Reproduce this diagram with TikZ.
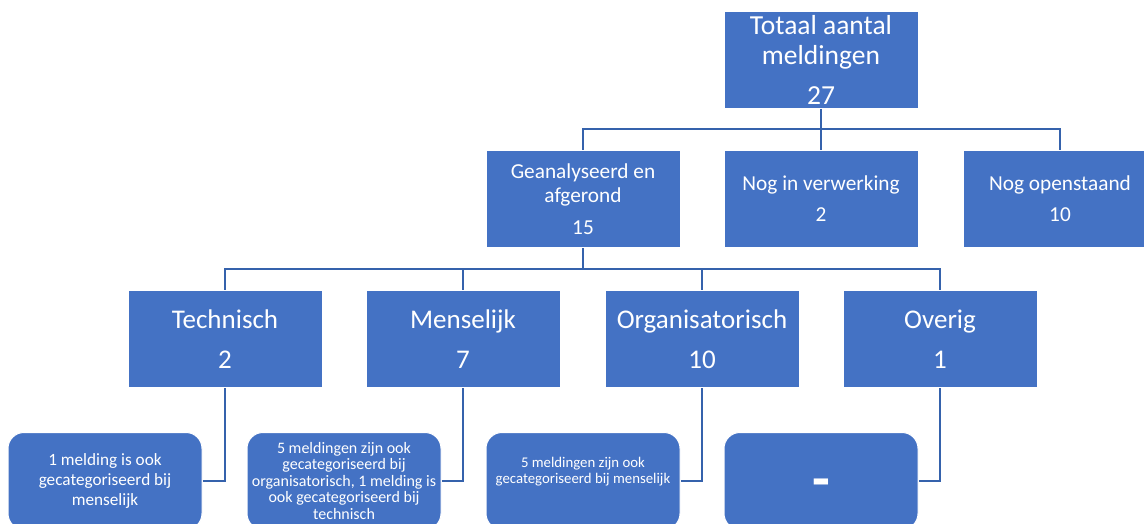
\documentclass[tikz,border=0pt]{standalone}
\usepackage{fontspec}
\setmainfont{Carlito}
\definecolor{boxblue}{HTML}{4472C4}
\definecolor{linkblue}{HTML}{3562AC}
\begin{document}
\begin{tikzpicture}[x=1pt,y=-1pt,
  box/.style={rectangle,fill=boxblue,draw=white,line width=1pt,minimum width=194pt,minimum height=97pt,text=white,align=center,inner sep=2pt},
  note/.style={box,rounded corners=16pt},
  conn/.style={draw=linkblue,line width=2.8pt}]
\clip (0,0) rectangle (1144,524);
\fill[white] (0,0) rectangle (1144,524);
% level 1
\node[box,font=\fontsize{27.5}{30}\selectfont] (top) at (821,60) {Totaal aantal\\meldingen\\[10pt]27};
% level 2
\node[box,font=\fontsize{21.3}{24}\selectfont] (ga) at (583,199) {Geanalyseerd en\\afgerond\\[8pt]15};
\node[box,font=\fontsize{21.3}{24}\selectfont] (nv) at (821,199) {Nog in verwerking\\[7pt]2};
\node[box,font=\fontsize{21.3}{24}\selectfont] (no) at (1060,199) {Nog openstaand\\[7pt]10};
% level 3
\node[box,font=\fontsize{27}{26}\selectfont] (te) at (225,339) {Technisch\\[14pt]2};
\node[box,font=\fontsize{27}{26}\selectfont] (me) at (463,339) {Menselijk\\[14pt]7};
\node[box,font=\fontsize{27}{26}\selectfont] (or) at (702,339) {Organisatorisch\\[14pt]10};
\node[box,font=\fontsize{27}{26}\selectfont] (ov) at (940,339) {Overig\\[14pt]1};
% level 4
\node[note,font=\fontsize{17.2}{20}\selectfont] (n1) at (105,481) {1 melding is ook\\gecategoriseerd bij\\menselijk};
\node[note,font=\fontsize{16}{16.5}\selectfont] (n2) at (344,481) {5 meldingen zijn ook\\gecategoriseerd bij\\organisatorisch, 1 melding is\\ook gecategoriseerd bij\\technisch};
\node[note,font=\fontsize{14.8}{16}\selectfont,text depth=22pt] (n3) at (583,481) {5 meldingen zijn ook\\gecategoriseerd bij menselijk};
\node[note,font=\fontsize{58}{58}\selectfont\bfseries] (n4) at (821,481) {\smash{\raisebox{-17pt}{-}}};
% connectors
\draw[conn] (top.south) -- ++(0,20) coordinate (j1);
\draw[conn] (j1) -| (ga.north);
\draw[conn] (j1) -| (no.north);
\draw[conn] (j1) -- (nv.north);
\draw[conn] (ga.south) -- ++(0,21) coordinate (j2);
\draw[conn] (j2) -| (te.north);
\draw[conn] (j2) -| (ov.north);
\draw[conn] (j2) -| (me.north);
\draw[conn] (j2) -| (or.north);
\draw[conn] (te.south) |- (n1.east);
\draw[conn] (me.south) |- (n2.east);
\draw[conn] (or.south) |- (n3.east);
\draw[conn] (ov.south) |- (n4.east);
\end{tikzpicture}
\end{document}
